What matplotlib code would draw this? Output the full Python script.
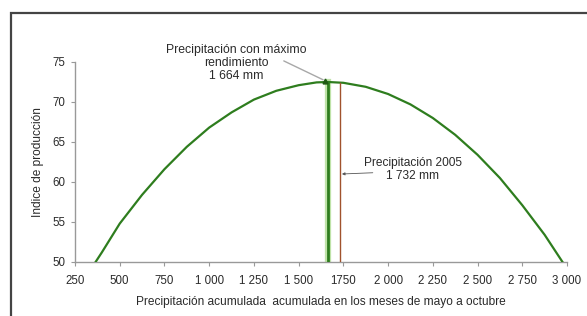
import matplotlib.pyplot as plt
from matplotlib.patches import Rectangle

# curve points
precip = [365, 400, 500, 625, 750, 875, 1000, 1125, 1250, 1375, 1500, 1600, 1664,
          1750, 1875, 2000, 2125, 2250, 2375, 2500, 2625, 2750, 2875, 2975]
indice = [50.0, 51.2, 54.8, 58.4, 61.6, 64.4, 66.8, 68.7, 70.3, 71.4, 72.1, 72.45, 72.5,
          72.4, 71.9, 71.0, 69.7, 68.0, 65.9, 63.4, 60.5, 57.1, 53.4, 50.0]

max_precip = 1664
max_indice = 72.5
precip_2005 = 1732
indice_2005 = 72.4

xticks = [250, 500, 750, 1000, 1250, 1500, 1750, 2000, 2250, 2500, 2750, 3000]
xtick_labels = ["250", "500", "750", "1 000", "1 250", "1 500", "1750",
                "2 000", "2 250", "2 500", "2 750", "3 000"]
yticks = [50, 55, 60, 65, 70, 75]

plt.rcParams['font.family'] = ['Liberation Sans', 'DejaVu Sans']
txt = '#2a2a2a'

fig = plt.figure(figsize=(5.87, 3.16), dpi=100)
# outer frame
fig.patches.append(Rectangle((11 / 587, -0.05), 1.0, 1 - 13 / 316 + 0.05,
                             transform=fig.transFigure, fill=False,
                             edgecolor='#444444', linewidth=1.6))

ax = fig.add_axes([75 / 587, 1 - 262 / 316, 492 / 587, 200 / 316])
green = '#2e7d1e'
brown = '#a0522d'

ax.plot(precip, indice, color=green, linewidth=1.6, zorder=3)

# vertical lines
ax.plot([max_precip, max_precip], [50, max_indice], color='#bfe3a8', linewidth=4.5, zorder=2)
ax.plot([max_precip, max_precip], [50, max_indice], color=green, linewidth=2, zorder=3)
ax.plot([precip_2005, precip_2005], [50, indice_2005], color=brown, linewidth=1, zorder=3)
ax.plot([max_precip - 15], [max_indice + 0.1], marker='^', color='#1f5a14',
        markersize=3.5, zorder=4)

ax.annotate("Precipitación con máximo\nrendimiento\n1 664 mm",
            xy=(max_precip - 20, max_indice + 0.2), xytext=(1150, 74.9),
            ha='center', va='center', fontsize=8.8, color=txt,
            linespacing=1.1, annotation_clip=False,
            arrowprops=dict(arrowstyle='-', color='#a8a8a8', linewidth=1.0,
                            shrinkA=0, shrinkB=1, patchA=None,
                            relpos=(0.84, 0.55)))
ax.annotate("Precipitación 2005\n1 732 mm",
            xy=(precip_2005 + 10, 61.0), xytext=(2139, 61.6),
            ha='center', va='center', fontsize=8.6, color=txt,
            linespacing=1.15,
            arrowprops=dict(arrowstyle='-|>', color='#555555', linewidth=0.6,
                            mutation_scale=4, shrinkA=0, shrinkB=0, patchA=None,
                            relpos=(0.09, 0.36)))

ax.set_xlim(250, 3000)
ax.set_ylim(50, 75)
ax.set_xticks(xticks)
ax.set_xticklabels(xtick_labels)
ax.set_yticks(yticks)
ax.tick_params(labelsize=8.3, colors=txt, length=3, color='#999999', width=0.8)
ax.tick_params(axis='x', pad=6)
ax.tick_params(axis='y', pad=4)
for s in ['top', 'right']:
    ax.spines[s].set_visible(False)
for s in ['left', 'bottom']:
    ax.spines[s].set_color('#999999')
    ax.spines[s].set_linewidth(1.0)

ax.set_xlabel("Precipitación acumulada  acumulada en los meses de mayo a octubre",
              fontsize=8.6, color=txt, labelpad=7)
ax.set_ylabel("Indice de producción", fontsize=8.6, color=txt, labelpad=6)

fig.savefig("out.png", dpi=100)
